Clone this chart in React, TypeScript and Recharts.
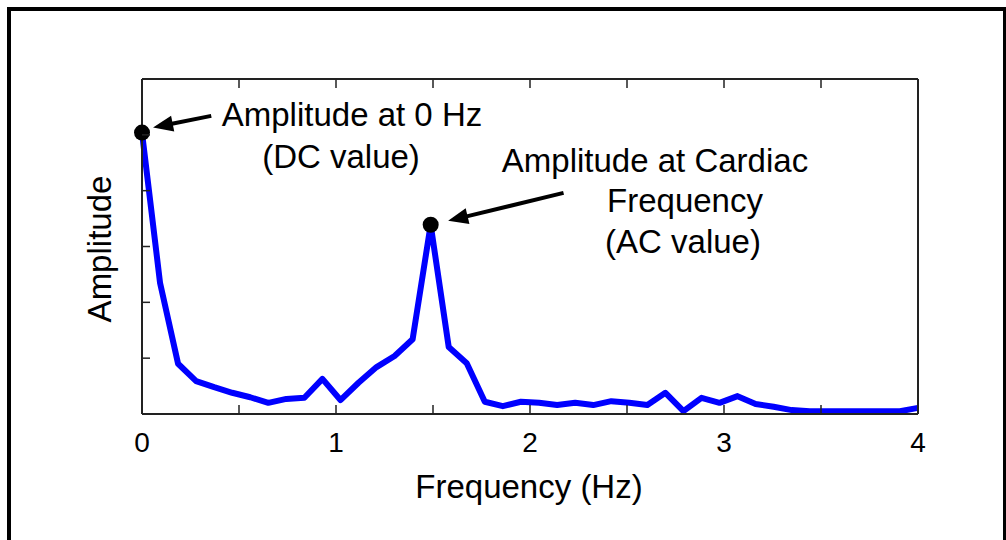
import { LineChart, Line, XAxis, YAxis, ReferenceDot, ReferenceLine } from 'recharts'

// frequency bins (Hz) and spectrum amplitude
const freq = [
  0, 0.093, 0.186, 0.279, 0.372, 0.465, 0.558, 0.651, 0.744, 0.837, 0.93,
  1.023, 1.116, 1.209, 1.302, 1.395, 1.488, 1.581, 1.674, 1.767, 1.86,
  1.953, 2.047, 2.14, 2.233, 2.326, 2.419, 2.512, 2.605, 2.698, 2.791,
  2.884, 2.977, 3.07, 3.163, 3.256, 3.349, 3.442, 3.535, 3.628, 3.721,
  3.814, 3.907, 4.0,
]
const amp = [
  5.04, 2.35, 0.9, 0.59, 0.48, 0.38, 0.3, 0.2, 0.27, 0.29, 0.63,
  0.25, 0.56, 0.84, 1.04, 1.34, 3.39, 1.2, 0.91, 0.22, 0.14,
  0.22, 0.2, 0.16, 0.2, 0.16, 0.23, 0.2, 0.16, 0.38, 0.05,
  0.29, 0.2, 0.32, 0.18, 0.13, 0.07, 0.05, 0.05, 0.05, 0.05,
  0.05, 0.05, 0.11,
]
const xTicks = [0, 0.5, 1, 1.5, 2, 2.5, 3, 3.5, 4]
const yTicks = [0, 1, 2, 3, 4, 5, 6]
const peakIdx = 16

const data = freq.map((f, i) => ({ f, amp: amp[i] }))

const AXIS = '#222'
const FONT = '"Liberation Sans", Arial, sans-serif'

// eslint-disable-next-line @typescript-eslint/no-explicit-any
function BottomTick({ x, y, payload }: any) {
  const v = payload.value
  return (
    <g>
      <line x1={x} y1={y} x2={x} y2={y - 9} stroke={AXIS} strokeWidth={1.5} />
      {Number.isInteger(v) && (
        <text x={x} y={y + 38} textAnchor="middle" fontSize={28} fontFamily={FONT} fill="#000">
          {v}
        </text>
      )}
    </g>
  )
}

// eslint-disable-next-line @typescript-eslint/no-explicit-any
function TopTick({ x, y }: any) {
  return <line x1={x} y1={y} x2={x} y2={y + 9} stroke={AXIS} strokeWidth={1.5} />
}

// eslint-disable-next-line @typescript-eslint/no-explicit-any
function LeftTick({ x, y }: any) {
  return <line x1={x} y1={y} x2={x + 8} y2={y} stroke={AXIS} strokeWidth={1.5} />
}

// eslint-disable-next-line @typescript-eslint/no-explicit-any
function RightTick({ x, y }: any) {
  return <line x1={x} y1={y} x2={x - 8} y2={y} stroke={AXIS} strokeWidth={1.5} />
}

// eslint-disable-next-line @typescript-eslint/no-explicit-any
function Arrow({ x1, y1, x2, y2 }: any) {
  const a = Math.atan2(y2 - y1, x2 - x1)
  const len = 20
  const w = 8
  const bx = x2 - len * Math.cos(a)
  const by = y2 - len * Math.sin(a)
  const px = -Math.sin(a) * w
  const py = Math.cos(a) * w
  return (
    <g>
      <line x1={x1} y1={y1} x2={bx + 2 * Math.cos(a)} y2={by + 2 * Math.sin(a)} stroke="#000" strokeWidth={4} />
      <polygon points={`${x2},${y2} ${bx + px},${by + py} ${bx - px},${by - py}`} fill="#000" />
    </g>
  )
}

const txt = { fontSize: 33, fontFamily: FONT, fill: '#000' }

export default function App() {
  return (
    <div style={{ position: 'absolute', left: 0, top: 0, width: 1006, height: 540, background: '#fff', overflow: 'hidden' }}>
      <div
        style={{
          position: 'absolute', left: 7, top: 7, width: 992, height: 560,
          borderTop: '4px solid #000', borderLeft: '4px solid #000', borderRight: '4px solid #000',
        }}
      />
      <div style={{ position: 'absolute', left: 0, top: 0 }}>
        <LineChart width={1006} height={540} data={data} margin={{ top: 78, right: 87, bottom: 125, left: 141 }}>
          <XAxis
            dataKey="f" type="number" domain={[0, 4]} ticks={xTicks} height={1}
            tickSize={0} tickMargin={0} tickLine={false} tick={<BottomTick />}
            axisLine={{ stroke: AXIS, strokeWidth: 2 }} interval={0}
          />
          <XAxis
            xAxisId="top" orientation="top" dataKey="f" type="number" domain={[0, 4]} ticks={xTicks} height={1}
            tickSize={0} tickMargin={0} tickLine={false} tick={<TopTick />}
            axisLine={{ stroke: AXIS, strokeWidth: 2 }} interval={0}
          />
          <YAxis
            type="number" domain={[0, 6]} ticks={yTicks} width={1}
            tickSize={0} tickMargin={0} tickLine={false} tick={<LeftTick />}
            axisLine={{ stroke: AXIS, strokeWidth: 2 }} interval={0}
          />
          <YAxis
            yAxisId="right" orientation="right" type="number" domain={[0, 6]} ticks={yTicks} width={1}
            tickSize={0} tickMargin={0} tickLine={false} tick={<RightTick />}
            axisLine={{ stroke: AXIS, strokeWidth: 2 }} interval={0}
          />
          <Line
            type="linear" dataKey="amp" stroke="#0000ff" strokeWidth={6}
            dot={false} isAnimationActive={false} strokeLinejoin="round"
          />
          <ReferenceLine
            segment={[{ x: 0.357, y: 5.34 }, { x: 0.057, y: 5.13 }]}
            shape={<Arrow />} ifOverflow="visible"
          />
          <ReferenceLine
            segment={[{ x: 2.173, y: 3.96 }, { x: 1.578, y: 3.46 }]}
            shape={<Arrow />} ifOverflow="visible"
          />
          <ReferenceDot x={freq[0]} y={amp[0]} r={8} fill="#000" stroke="none" ifOverflow="visible" />
          <ReferenceDot x={freq[peakIdx]} y={amp[peakIdx]} r={8} fill="#000" stroke="none" ifOverflow="visible" />
        </LineChart>
      </div>
      <svg width={1006} height={540} style={{ position: 'absolute', left: 0, top: 0, pointerEvents: 'none' }}>
        <text x={352} y={126} textAnchor="middle" {...txt}>Amplitude at 0 Hz</text>
        <text x={341} y={168} textAnchor="middle" {...txt}>(DC value)</text>
        <text x={655} y={172} textAnchor="middle" {...txt}>Amplitude at Cardiac</text>
        <text x={685} y={212} textAnchor="middle" {...txt}>Frequency</text>
        <text x={683} y={253} textAnchor="middle" {...txt}>(AC value)</text>
        <text x={529} y={498} textAnchor="middle" {...txt}>Frequency (Hz)</text>
        <text x={0} y={0} textAnchor="middle" transform="translate(111,249) rotate(-90)" {...txt}>Amplitude</text>
      </svg>
    </div>
  )
}
